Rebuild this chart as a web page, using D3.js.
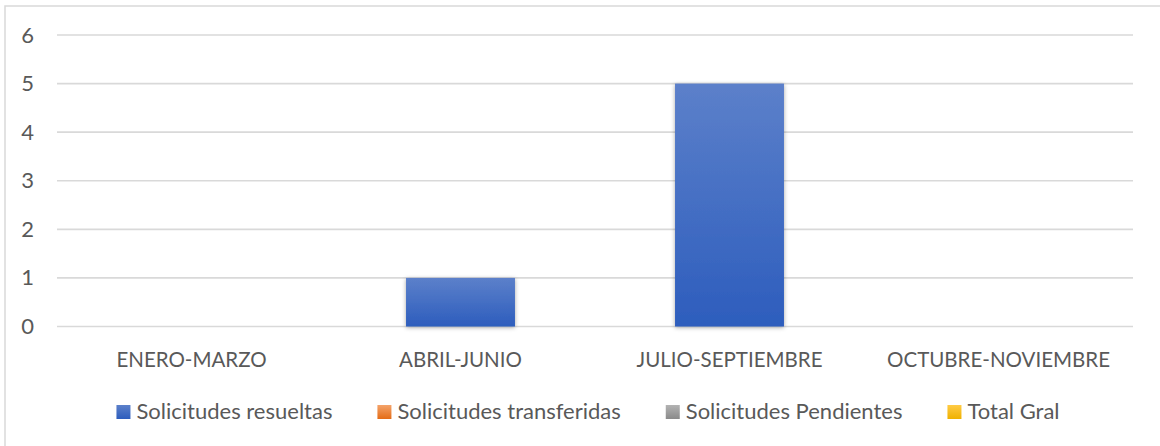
<!DOCTYPE html>
<html>
<head>
<meta charset="utf-8">
<script src="https://d3js.org/d3.v7.min.js"></script>
<style>
  html, body { margin: 0; padding: 0; background: #fff; }
  svg { display: block; }
</style>
</head>
<body>
<div id="chart"></div>
<script>
// datos del grafico
const categories = ['ENERO-MARZO', 'ABRIL-JUNIO', 'JULIO-SEPTIEMBRE', 'OCTUBRE-NOVIEMBRE'];
const seriesNames = ['Solicitudes resueltas', 'Solicitudes transferidas', 'Solicitudes Pendientes', 'Total Gral'];
const resueltas = [0, 1, 5, 0];
const transferidas = [0, 0, 0, 0];
const pendientes = [0, 0, 0, 0];
const totalGral = [0, 0, 0, 0];
const yTicks = [0, 1, 2, 3, 4, 5, 6];

const seriesValues = [resueltas, transferidas, pendientes, totalGral];
const seriesColors = [
  ['#5c80ca', '#2d5dbd'],
  ['#f4a36a', '#e46c16'],
  ['#b3b3b3', '#8a8a8a'],
  ['#ffcb45', '#efb100']
];

const width = 1160, height = 446;
const margin = { top: 35, right: 27, bottom: 119, left: 57 };
const fontFam = 'Lato, "Open Sans", sans-serif';
const textColor = '#595959';

const svg = d3.select('#chart').append('svg')
  .attr('width', width)
  .attr('height', height);

const defs = svg.append('defs');

// degradados para barras y leyenda
seriesColors.forEach((c, i) => {
  const g = defs.append('linearGradient')
    .attr('id', 'grad' + i)
    .attr('x1', 0).attr('y1', 0).attr('x2', 0).attr('y2', 1);
  g.append('stop').attr('offset', '0%').attr('stop-color', c[0]);
  g.append('stop').attr('offset', '100%').attr('stop-color', c[1]);
});

// sombra suave de las barras
const f = defs.append('filter').attr('id', 'shadow')
  .attr('x', '-20%').attr('y', '-20%').attr('width', '140%').attr('height', '140%');
f.append('feDropShadow')
  .attr('dx', 0).attr('dy', 1)
  .attr('stdDeviation', 2.2)
  .attr('flood-color', '#000')
  .attr('flood-opacity', 0.35);

// borde exterior
svg.append('rect')
  .attr('x', 5).attr('y', 6)
  .attr('width', width).attr('height', height)
  .attr('fill', 'none')
  .attr('stroke', '#d9d9d9')
  .attr('stroke-width', 1.5);

const x = d3.scaleBand()
  .domain(categories)
  .range([margin.left, width - margin.right])
  .paddingInner(0.595)
  .paddingOuter(0.2975);

const y = d3.scaleLinear()
  .domain([0, 6])
  .range([height - margin.bottom - 0.5, margin.top]);

// lineas de cuadricula
svg.append('g')
  .selectAll('line')
  .data(yTicks)
  .join('line')
  .attr('x1', margin.left)
  .attr('x2', width - margin.right)
  .attr('y1', d => y(d))
  .attr('y2', d => y(d))
  .attr('stroke', '#d9d9d9')
  .attr('stroke-width', 1.6);

// etiquetas del eje Y
const yAxis = d3.axisLeft(y).tickValues(yTicks).tickFormat(d3.format('d')).tickSize(0).tickPadding(0);
const yg = svg.append('g')
  .attr('transform', `translate(34,0)`)
  .call(yAxis);
yg.select('.domain').remove();
yg.selectAll('text')
  .attr('fill', textColor)
  .style('font-family', fontFam)
  .style('font-size', '22px');

// etiquetas del eje X
const xAxis = d3.axisBottom(x).tickSize(0).tickPadding(0);
const xg = svg.append('g')
  .attr('transform', `translate(0,${y(0)})`)
  .call(xAxis);
xg.select('.domain').remove();
xg.selectAll('text')
  .attr('dy', null)
  .attr('y', 40)
  .attr('fill', textColor)
  .style('font-family', fontFam)
  .style('font-size', '20.5px');

// barras (superpuestas en el centro de la categoria)
seriesValues.forEach((vals, si) => {
  svg.append('g')
    .selectAll('rect')
    .data(vals.map((v, i) => ({ cat: categories[i], v })).filter(d => d.v > 0))
    .join('rect')
    .attr('x', d => x(d.cat))
    .attr('width', x.bandwidth())
    .attr('y', d => y(d.v))
    .attr('height', d => y(0) - y(d.v))
    .attr('fill', `url(#grad${si})`)
    .attr('filter', 'url(#shadow)');
});

// leyenda
const legend = svg.append('g');
const items = legend.selectAll('g')
  .data(seriesNames)
  .join('g');
items.append('rect')
  .attr('width', 14).attr('height', 14)
  .attr('y', 405)
  .attr('fill', (d, i) => `url(#grad${i})`);
items.append('text')
  .attr('x', 20)
  .attr('y', 419)
  .attr('fill', textColor)
  .style('font-family', fontFam)
  .style('font-size', '22px')
  .text(d => d);

let widths = [];
items.each(function () {
  widths.push(20 + this.querySelector('text').getComputedTextLength());
});
const gap = 45;
const total = d3.sum(widths) + gap * (widths.length - 1);
let cx = 588 - total / 2;
items.attr('transform', (d, i) => {
  const t = `translate(${cx},0)`;
  cx += widths[i] + gap;
  return t;
});
</script>
</body>
</html>
